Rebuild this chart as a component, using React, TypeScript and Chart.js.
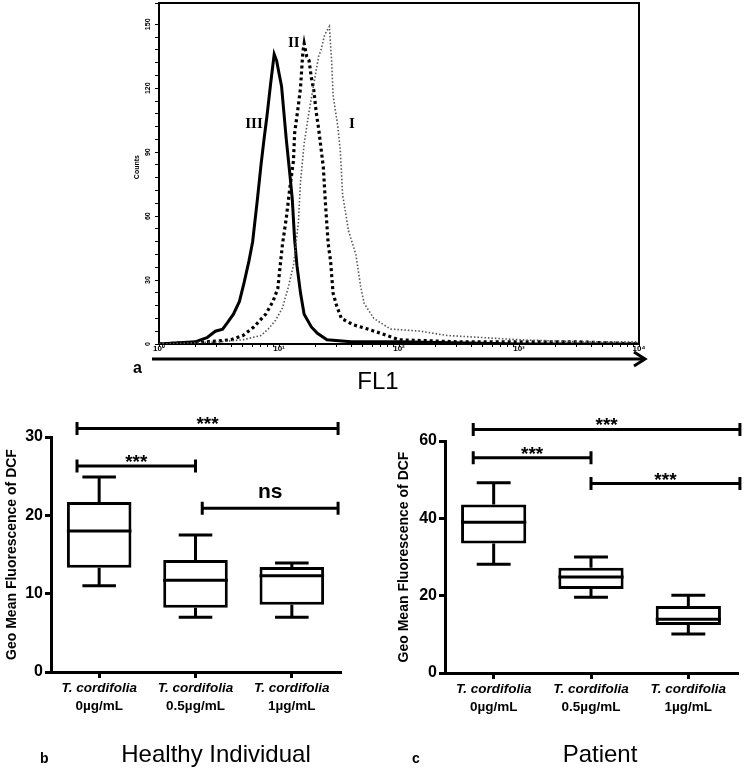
import React, { useEffect, useRef } from 'react';
import { Chart, registerables } from 'chart.js';

Chart.register(...registerables);

const SANS = '"Liberation Sans", Arial, Helvetica, sans-serif';
const SERIF = '"Liberation Serif", "Times New Roman", serif';

// ---------------- Panel a: FL1 histogram ----------------
const fl1CurveI = [1, 3.16, 5.01, 7.08, 8.13, 9.33, 10.7, 12.0, 13.2, 14.5, 15.1, 16.2, 17.8, 19.5, 21.4, 22.4, 24.0, 26.3, 27.5, 28.2, 30.9, 32.4, 33.9, 38.0, 43.7, 47.9, 51.3, 61.7, 85.1, 151, 251, 501, 1000, 3162, 10000];
const countsCurveI = [0, 1, 2, 4, 7, 11, 17, 27, 37, 57, 76, 94, 109, 122, 135, 138, 145, 149, 132, 117, 102, 91, 70, 53, 42, 27, 19, 12, 7, 6, 4, 3, 2, 1, 1];

const fl1CurveII = [1, 2.51, 3.98, 5.01, 6.17, 7.76, 8.91, 9.77, 10.7, 11.5, 12.3, 13.2, 13.5, 14.5, 15.1, 15.8, 16.2, 17.0, 17.8, 18.6, 19.5, 20.4, 21.4, 23.4, 24.5, 25.7, 26.9, 28.2, 30.2, 33.1, 41.7, 55.0, 79.4, 100, 316, 1000, 3162, 10000];
const countsCurveII = [0, 1, 2, 4, 8, 14, 20, 26, 47, 59, 73, 86, 99, 112, 120, 137, 141, 135, 133, 125, 119, 109, 101, 83, 64, 47, 39, 24, 18, 12, 9, 7, 4, 2, 1, 1, 1, 0];

const fl1CurveIII = [1, 2.0, 2.51, 2.95, 3.39, 3.72, 4.17, 4.68, 5.13, 5.62, 6.03, 6.61, 7.08, 7.5, 7.94, 8.51, 9.12, 9.55, 10, 10.5, 11.5, 12.3, 12.9, 13.5, 14.1, 15.1, 16.2, 18.6, 20.9, 25.1, 39.8, 100, 1000, 10000];
const countsCurveIII = [0, 1, 3, 6, 7, 10, 14, 20, 29, 39, 48, 68, 84, 96, 107, 122, 136, 133, 127, 121, 96, 80, 68, 49, 37, 24, 14, 8, 5, 2, 1, 1, 0, 0];

const histYTickLabels = [0, 30, 60, 90, 120, 150];
const histDecades = [1, 10, 100, 1000, 10000];
const decadeLabels = ['10⁰', '10¹', '10²', '10³', '10⁴'];
const curveNames = ['I', 'II', 'III'];
const curveNameFl1 = [40.6, 13.3, 6.19];
const curveNameCount = [103, 141, 103];

// ---------------- Panels b & c: box plots ----------------
const speciesLabel = 'T. cordifolia';
const doseLabels = ['0µg/mL', '0.5µg/mL', '1µg/mL'];
const yAxisTitle = 'Geo Mean Fluorescence of DCF';

const healthyMin = [11.0, 7.0, 7.0];
const healthyQ1 = [13.3, 8.2, 8.6];
const healthyMedian = [18.0, 11.7, 12.3];
const healthyQ3 = [21.7, 14.3, 13.4];
const healthyMax = [24.9, 17.5, 13.9];
const healthySigFrom = [-0.23, -0.23, 1.07];
const healthySigTo = [2.48, 1.0, 2.48];
const healthySigY = [31.1, 26.3, 20.9];
const healthySigText = ['***', '***', 'ns'];

const patientMin = [28.1, 19.6, 10.1];
const patientQ1 = [33.5, 21.7, 12.4];
const patientMedian = [39.0, 24.8, 13.9];
const patientQ3 = [43.6, 27.2, 17.3];
const patientMax = [49.2, 30.0, 20.1];
const patientSigFrom = [-0.21, -0.21, 1.0];
const patientSigTo = [2.53, 1.0, 2.53];
const patientSigY = [63.0, 55.7, 49.0];
const patientSigText = ['***', '***', '***'];

function buildLogTicks(): number[] {
  const out: number[] = [];
  for (let e = 0; e < 4; e++) {
    for (let s = 1; s < 10; s++) out.push(s * Math.pow(10, e));
  }
  out.push(10000);
  return out;
}

function Histogram() {
  const ref = useRef<HTMLCanvasElement>(null);
  useEffect(() => {
    const decor = {
      id: 'histDecor',
      afterDraw(chart: any) {
        const { ctx, chartArea: a, scales } = chart;
        ctx.save();
        ctx.strokeStyle = '#000';
        ctx.lineWidth = 2;
        ctx.beginPath();
        ctx.moveTo(a.left, a.top);
        ctx.lineTo(a.right, a.top);
        ctx.lineTo(a.right, a.bottom);
        ctx.stroke();
        ctx.fillStyle = '#000';
        ctx.textAlign = 'center';
        ctx.textBaseline = 'middle';
        ctx.font = `bold 7px ${SANS}`;
        histYTickLabels.forEach((v) => {
          const yy = scales.y.getPixelForValue(v);
          ctx.save();
          ctx.translate(a.left - 11, yy);
          ctx.rotate(-Math.PI / 2);
          ctx.fillText(String(v), 0, 0);
          ctx.restore();
        });
        ctx.save();
        ctx.translate(a.left - 22, scales.y.getPixelForValue(83));
        ctx.rotate(-Math.PI / 2);
        ctx.fillText('Counts', 0, 0);
        ctx.restore();
        ctx.font = `bold 15px ${SERIF}`;
        curveNames.forEach((n, i) => {
          ctx.fillText(n, scales.x.getPixelForValue(curveNameFl1[i]), scales.y.getPixelForValue(curveNameCount[i]));
        });
        ctx.restore();
      },
    };
    const chart = new Chart(ref.current as HTMLCanvasElement, {
      type: 'line',
      data: {
        datasets: [
          {
            label: 'I',
            data: fl1CurveI.map((x, i) => ({ x, y: countsCurveI[i] })),
            borderColor: '#555',
            borderWidth: 1.6,
            borderDash: [1.5, 2],
            pointRadius: 0,
            tension: 0,
          },
          {
            label: 'II',
            data: fl1CurveII.map((x, i) => ({ x, y: countsCurveII[i] })),
            borderColor: '#000',
            borderWidth: 3.2,
            borderDash: [3, 3],
            pointRadius: 0,
            tension: 0,
          },
          {
            label: 'III',
            data: fl1CurveIII.map((x, i) => ({ x, y: countsCurveIII[i] })),
            borderColor: '#000',
            borderWidth: 3,
            pointRadius: 0,
            tension: 0,
          },
        ],
      },
      options: {
        animation: false,
        responsive: false,
        events: [],
        layout: { padding: { left: 0, top: 3, right: 21, bottom: 0 } },
        plugins: { legend: { display: false }, tooltip: { enabled: false } },
        scales: {
          x: {
            type: 'logarithmic',
            min: 1,
            max: 10000,
            afterBuildTicks: (s: any) => {
              s.ticks = buildLogTicks().map((v) => ({ value: v }));
            },
            afterFit: (s: any) => {
              s.height = 18;
            },
            grid: { drawOnChartArea: false, tickLength: 3, color: '#000', lineWidth: 1 },
            border: { color: '#000', width: 2 },
            ticks: {
              autoSkip: false,
              maxRotation: 0,
              minRotation: 0,
              padding: -3,
              color: '#000',
              font: { family: SANS, size: 8, weight: 'bold' },
              callback: (v: any) => {
                const k = histDecades.indexOf(Number(v));
                return k >= 0 ? decadeLabels[k] : '';
              },
            },
          },
          y: {
            min: 0,
            max: 160,
            afterFit: (s: any) => {
              s.width = 59;
            },
            ticks: { display: false, stepSize: 6 },
            grid: { drawOnChartArea: false, tickLength: 4, color: '#000', lineWidth: 1 },
            border: { color: '#000', width: 2 },
          },
        },
      } as any,
      plugins: [decor],
    });
    return () => chart.destroy();
  }, []);
  return (
    <canvas
      ref={ref}
      width={560}
      height={362}
      style={{ position: 'absolute', left: 100, top: 0, width: 560, height: 362 }}
    />
  );
}

type BoxProps = {
  left: number;
  top: number;
  width: number;
  height: number;
  areaTop: number;
  areaBottom: number;
  padRight: number;
  axisWidth: number;
  yMax: number;
  yStep: number;
  mins: number[];
  q1s: number[];
  medians: number[];
  q3s: number[];
  maxs: number[];
  sigFrom: number[];
  sigTo: number[];
  sigY: number[];
  sigText: string[];
};

function BoxPanel(p: BoxProps) {
  const ref = useRef<HTMLCanvasElement>(null);
  useEffect(() => {
    const decor = {
      id: 'boxDecor',
      afterDatasetsDraw(chart: any) {
        const { ctx, chartArea, scales } = chart;
        const x = scales.x;
        const y = scales.y;
        const meta = chart.getDatasetMeta(0);
        ctx.save();
        ctx.strokeStyle = '#000';
        ctx.fillStyle = '#000';
        ctx.lineWidth = 3;
        p.mins.forEach((mn, i) => {
          const cx = x.getPixelForValue(i);
          const bw = meta.data[i].width;
          const capHalf = bw * 0.26;
          const yMin = y.getPixelForValue(mn);
          const yMax = y.getPixelForValue(p.maxs[i]);
          const yQ1 = y.getPixelForValue(p.q1s[i]);
          const yQ3 = y.getPixelForValue(p.q3s[i]);
          const yMed = y.getPixelForValue(p.medians[i]);
          ctx.beginPath();
          ctx.moveTo(cx, yQ3);
          ctx.lineTo(cx, yMax);
          ctx.moveTo(cx - capHalf, yMax);
          ctx.lineTo(cx + capHalf, yMax);
          ctx.moveTo(cx, yQ1);
          ctx.lineTo(cx, yMin);
          ctx.moveTo(cx - capHalf, yMin);
          ctx.lineTo(cx + capHalf, yMin);
          ctx.moveTo(cx - bw / 2, yMed);
          ctx.lineTo(cx + bw / 2, yMed);
          ctx.stroke();
        });
        p.sigFrom.forEach((f, k) => {
          const x1 = x.getPixelForValue(f);
          const x2 = x.getPixelForValue(p.sigTo[k]);
          const yy = y.getPixelForValue(p.sigY[k]);
          ctx.beginPath();
          ctx.moveTo(x1, yy);
          ctx.lineTo(x2, yy);
          ctx.moveTo(x1, yy - 6.5);
          ctx.lineTo(x1, yy + 6.5);
          ctx.moveTo(x2, yy - 6.5);
          ctx.lineTo(x2, yy + 6.5);
          ctx.stroke();
          const isStar = p.sigText[k].indexOf('*') >= 0;
          ctx.font = isStar ? `bold 19px ${SANS}` : `bold 21px ${SANS}`;
          ctx.textAlign = 'center';
          ctx.textBaseline = 'alphabetic';
          ctx.fillText(p.sigText[k], (x1 + x2) / 2, isStar ? yy + 2 : yy - 10);
        });
        ctx.textAlign = 'center';
        ctx.textBaseline = 'middle';
        doseLabels.forEach((d, i) => {
          const cx = x.getPixelForValue(i);
          ctx.font = `italic bold 13.5px ${SANS}`;
          ctx.fillText(speciesLabel, cx, chartArea.bottom + 16);
          ctx.font = `bold 13.5px ${SANS}`;
          ctx.fillText(d, cx, chartArea.bottom + 34);
        });
        ctx.restore();
      },
    };
    const chart = new Chart(ref.current as HTMLCanvasElement, {
      type: 'bar',
      data: {
        labels: doseLabels,
        datasets: [
          {
            data: p.q1s.map((q, i) => [q, p.q3s[i]]),
            backgroundColor: '#fff',
            borderColor: '#000',
            borderWidth: 3,
            borderSkipped: false,
            barPercentage: 0.67,
            categoryPercentage: 1,
          },
        ],
      },
      options: {
        animation: false,
        responsive: false,
        events: [],
        layout: { padding: { left: 0, top: p.areaTop, right: p.padRight, bottom: 0 } },
        plugins: { legend: { display: false }, tooltip: { enabled: false } },
        scales: {
          x: {
            offset: true,
            grid: { offset: false, drawOnChartArea: false, tickLength: 6, lineWidth: 3, color: '#000' },
            border: { width: 3, color: '#000' },
            ticks: { display: false },
            afterFit: (s: any) => {
              s.height = p.height - p.areaBottom;
            },
          },
          y: {
            min: 0,
            max: p.yMax,
            ticks: { stepSize: p.yStep, color: '#000', padding: 2, font: { family: SANS, size: 16, weight: 'bold' } },
            grid: { drawOnChartArea: false, tickLength: 6, lineWidth: 3, color: '#000' },
            border: { width: 3, color: '#000' },
            title: {
              display: true,
              text: yAxisTitle,
              color: '#000',
              font: { family: SANS, size: 14, weight: 'bold' },
              padding: { top: 4, bottom: 0 },
            },
            afterFit: (s: any) => {
              s.width = p.axisWidth;
            },
          },
        },
      } as any,
      plugins: [decor],
    });
    return () => chart.destroy();
  }, []);
  return (
    <canvas
      ref={ref}
      width={p.width}
      height={p.height}
      style={{ position: 'absolute', left: p.left, top: p.top, width: p.width, height: p.height }}
    />
  );
}

function Label(props: { text: string; left: number; top: number; size: number; bold?: boolean; center?: boolean }) {
  const w = 300;
  return (
    <div
      style={{
        position: 'absolute',
        left: props.center ? props.left - w / 2 : props.left,
        top: props.top,
        width: props.center ? w : undefined,
        textAlign: props.center ? 'center' : 'left',
        fontFamily: SANS,
        fontSize: props.size,
        lineHeight: `${props.size}px`,
        fontWeight: props.bold ? 'bold' : 'normal',
        whiteSpace: 'nowrap',
        color: '#000',
      }}
    >
      {props.text}
    </div>
  );
}

export default function App() {
  return (
    <div style={{ position: 'absolute', left: 0, top: 0, width: 744, height: 768, background: '#fff', overflow: 'hidden' }}>
      <Histogram />
      <svg width={744} height={768} style={{ position: 'absolute', left: 0, top: 0, pointerEvents: 'none' }}>
        <line x1={152} y1={359} x2={644} y2={359} stroke="#000" strokeWidth={3} />
        <polyline points="634,352 645,359 634,366" fill="none" stroke="#000" strokeWidth={3} />
      </svg>
      <Label text="a" left={133} top={360} size={16} bold />
      <Label text="FL1" left={378} top={369} size={24} center />
      <BoxPanel
        left={0}
        top={400}
        width={350}
        height={320}
        areaTop={37}
        areaBottom={272}
        padRight={10}
        axisWidth={51}
        yMax={30}
        yStep={10}
        mins={healthyMin}
        q1s={healthyQ1}
        medians={healthyMedian}
        q3s={healthyQ3}
        maxs={healthyMax}
        sigFrom={healthySigFrom}
        sigTo={healthySigTo}
        sigY={healthySigY}
        sigText={healthySigText}
      />
      <BoxPanel
        left={392}
        top={400}
        width={352}
        height={320}
        areaTop={41}
        areaBottom={273}
        padRight={7}
        axisWidth={53}
        yMax={60}
        yStep={20}
        mins={patientMin}
        q1s={patientQ1}
        medians={patientMedian}
        q3s={patientQ3}
        maxs={patientMax}
        sigFrom={patientSigFrom}
        sigTo={patientSigTo}
        sigY={patientSigY}
        sigText={patientSigText}
      />
      <Label text="b" left={40} top={751} size={14} bold />
      <Label text="Healthy Individual" left={216} top={742} size={24} center />
      <Label text="c" left={412} top={751} size={14} bold />
      <Label text="Patient" left={600} top={742} size={24} center />
    </div>
  );
}
